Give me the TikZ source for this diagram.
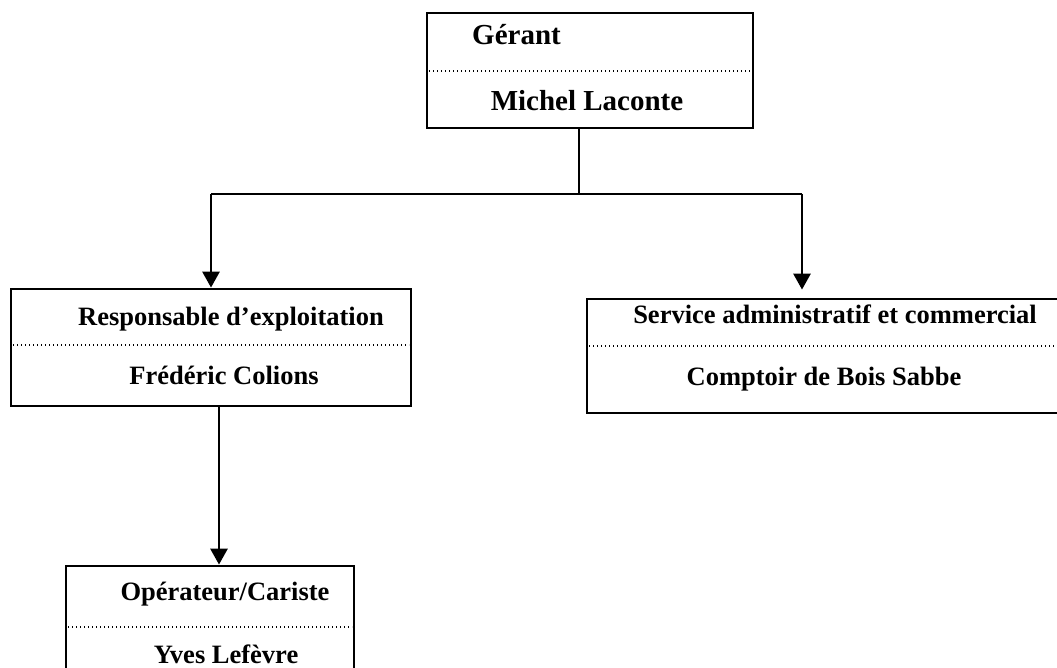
\documentclass[tikz,border=0pt]{standalone}
\usepackage{fontspec}
\setmainfont{Liberation Serif}
\usetikzlibrary{arrows.meta}
\begin{document}
\begin{tikzpicture}[x=1pt,y=-1pt,
 box/.style={draw, line width=2.8pt, rectangle, inner sep=0pt},
 sep/.style={line width=1.4pt, dash pattern=on 1.4pt off 2.6pt},
 lab/.style={anchor=base, inner sep=0pt, font=\fontsize{26.5}{30}\selectfont\bfseries},
 biglab/.style={lab, font=\fontsize{29}{32}\selectfont\bfseries},
 conn/.style={line width=2.8pt},
 arr/.style={conn, -{Triangle[width=17pt,length=16pt]}}]
\useasboundingbox (0,0) rectangle (1057,668);
\clip (0,0) rectangle (1057,668);
% boxes
\node[box, minimum width=326pt, minimum height=115pt] (ger) at (590,70.5) {};
\node[box, minimum width=400pt, minimum height=117pt] (resp) at (211,347.5) {};
\node[box, minimum width=488pt, minimum height=114pt] (serv) at (831,356) {};
\node[box, minimum width=288pt, minimum height=134pt] (op) at (210,633) {};
% dotted separators
\draw[sep] (429,71) -- (751,71);
\draw[sep] (13,345) -- (409,345);
\draw[sep] (589,346) -- (1057,346);
\draw[sep] (68,627) -- (352,627);
% texts
\node[biglab, anchor=base west] (t1) at (472,45) {Gérant};
\node[biglab] (t2) at (587,111) {Michel Laconte};
\node[lab] (t3) at (231,325) {Responsable d’exploitation};
\node[lab] (t4) at (224,384) {Frédéric Colions};
\node[lab] (t5) at (835,323) {Service administratif et commercial};
\node[lab] (t6) at (824,385) {Comptoir de Bois Sabbe};
\node[lab] (t7) at (225,600) {Opérateur/Cariste};
\node[lab] (t8) at (226,663) {Yves Lefèvre};
% connectors
\coordinate (j0) at (579,194);
\coordinate (jl) at (211,194);
\coordinate (jr) at (802,194);
\coordinate (jb) at (219,0);
\draw[conn] (ger.south -| j0) -- (j0);
\draw[conn] (jl) -- (jr);
\draw[arr] (jl) -- (resp.north -| jl);
\draw[arr, shorten >=8pt] (jr) -- (serv.north -| jr);
\draw[arr] (resp.south -| jb) -- (op.north -| jb);
\end{tikzpicture}
\end{document}
